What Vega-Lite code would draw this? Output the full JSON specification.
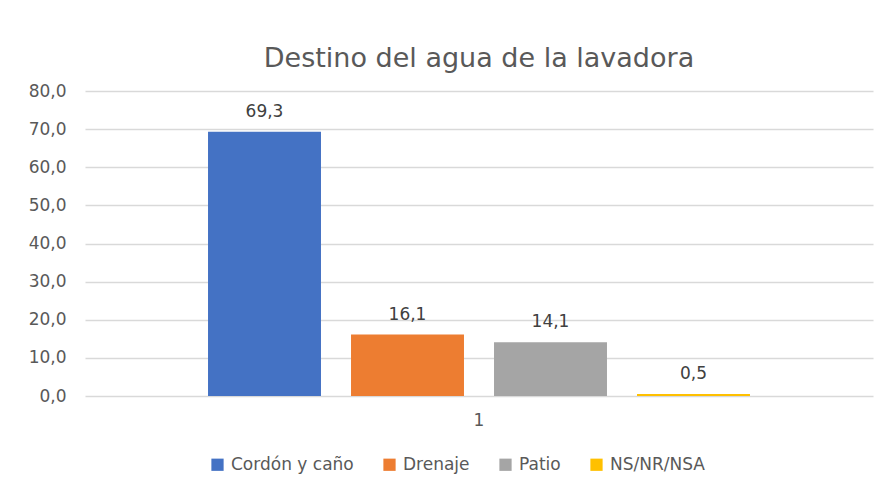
{
  "$schema": "https://vega.github.io/schema/vega-lite/v6.json",
  "autosize": "none",
  "width": 788,
  "height": 305,
  "padding": {"left": 85, "top": 91, "right": 14, "bottom": 93},
  "background": "white",
  "config": {
    "locale": {"number": {"decimal": ",", "thousands": ".", "grouping": [3], "currency": ["", " €"]}},
    "view": {"stroke": null},
    "font": "DejaVu Sans"
  },
  "title": {
    "text": "Destino del agua de la lavadora",
    "fontSize": 27,
    "fontWeight": "normal",
    "color": "#595959",
    "font": "DejaVu Sans",
    "anchor": "middle",
    "offset": 9
  },
  "data": {
    "values": [
      {"cat": "1", "destino": "Cordón y caño", "valor": 69.3},
      {"cat": "1", "destino": "Drenaje", "valor": 16.1},
      {"cat": "1", "destino": "Patio", "valor": 14.1},
      {"cat": "1", "destino": "NS/NR/NSA", "valor": 0.5}
    ]
  },
  "encoding": {
    "x": {
      "field": "cat",
      "type": "nominal",
      "scale": {"paddingInner": 0, "paddingOuter": 0.227},
      "axis": {
        "title": null,
        "labelAngle": 0,
        "ticks": false,
        "domain": false,
        "labelFontSize": 17,
        "labelColor": "#595959",
        "labelPadding": 16
      }
    },
    "xOffset": {
      "field": "destino",
      "type": "nominal",
      "sort": ["Cordón y caño", "Drenaje", "Patio", "NS/NR/NSA"],
      "scale": {"paddingInner": 0.21, "paddingOuter": 0}
    },
    "y": {
      "field": "valor",
      "type": "quantitative",
      "scale": {"domain": [0, 80]},
      "axis": {
        "title": null,
        "values": [0, 10, 20, 30, 40, 50, 60, 70, 80],
        "format": ".1f",
        "ticks": false,
        "domain": false,
        "gridColor": "#d9d9d9",
        "gridWidth": 1.3,
        "labelFontSize": 17,
        "labelColor": "#595959",
        "labelPadding": 19
      }
    }
  },
  "layer": [
    {
      "mark": {"type": "bar"},
      "encoding": {
        "color": {
          "field": "destino",
          "type": "nominal",
          "sort": ["Cordón y caño", "Drenaje", "Patio", "NS/NR/NSA"],
          "scale": {
            "domain": ["Cordón y caño", "Drenaje", "Patio", "NS/NR/NSA"],
            "range": ["#4472c4", "#ed7d31", "#a5a5a5", "#ffc000"]
          },
          "legend": {
            "title": null,
            "orient": "none",
            "direction": "horizontal",
            "legendX": 124,
            "legendY": 365,
            "symbolType": "square",
            "symbolSize": 150,
            "symbolStrokeWidth": 0,
            "labelFontSize": 17,
            "labelColor": "#595959",
            "columnPadding": 27,
            "labelOffset": 5
          }
        }
      }
    },
    {
      "mark": {"type": "text", "dy": -20, "fontSize": 17, "color": "#404040"},
      "encoding": {
        "text": {"field": "valor", "type": "quantitative", "format": ".1f"}
      }
    }
  ]
}
